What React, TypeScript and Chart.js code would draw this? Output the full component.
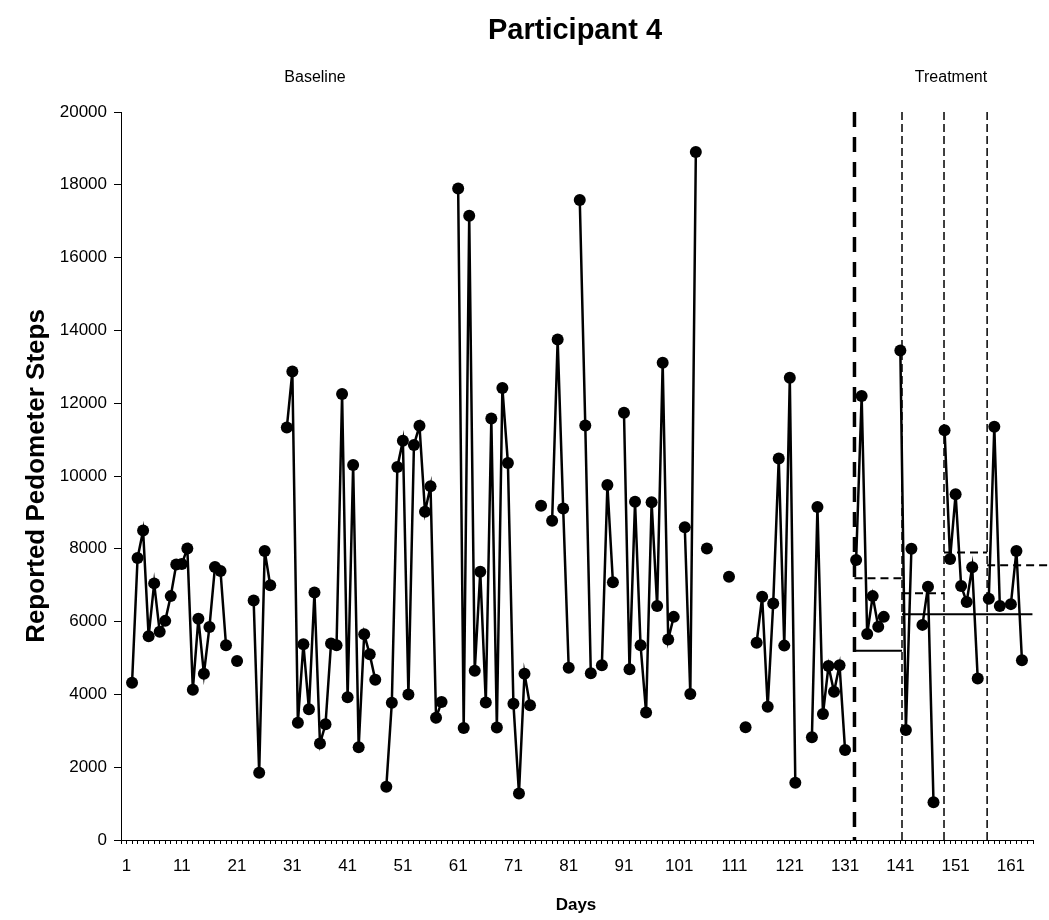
import React, { useEffect, useRef } from 'react';
import { Chart, registerables } from 'chart.js';

Chart.register(...registerables);

// Reported pedometer steps for days 1..165 (null = no report)
const steps: (number | null)[] = [
  null, 4320, 7750, 8500, 5600, 7050, 5720, 6020, 6700, 7570, // 1-10
  7580, 8010, 4130, 6080, 4570, 5850, 7500, 7390, 5350, null, // 11-20
  4920, null, null, 6580, 1850, 7940, 7000, null, null, 11330, // 21-30
  12870, 3220, 5380, 3590, 6800, 2650, 3180, 5400, 5350, 12250, // 31-40
  3920, 10300, 2550, 5650, 5100, 4400, null, 1460, 3770, 10250, // 41-50
  10970, 4000, 10850, 11380, 9020, 9720, 3360, 3790, null, null, // 51-60
  17900, 3080, 17150, 4650, 7370, 3780, 11580, 3090, 12420, 10360, // 61-70
  3740, 1280, 4570, 3700, null, 9180, null, 8770, 13750, 9110, // 71-80
  4730, null, 17580, 11390, 4580, null, 4800, 9750, 7080, null, // 81-90
  11740, 4690, 9290, 5350, 3500, 9280, 6430, 13110, 5510, 6130, // 91-100
  null, 8590, 4010, 18900, null, 8010, null, null, null, 7230, // 101-110
  null, null, 3100, null, 5420, 6680, 3660, 6500, 10480, 5340, // 111-120
  12700, 1570, null, null, 2820, 9150, 3460, 4780, 4070, 4800, // 121-130
  2470, null, 7690, 12200, 5660, 6700, 5860, 6130, null, null, // 131-140
  13450, 3020, 8000, null, 5910, 6960, 1040, null, 11260, 7720, // 141-150
  9500, 6980, 6540, 7490, 4440, null, 6630, 11350, 6430, null, // 151-160
  6480, 7940, 4940, null, null, // 161-165
];

const xTickLabels: number[] = [1, 11, 21, 31, 41, 51, 61, 71, 81, 91, 101, 111, 121, 131, 141, 151, 161];
const yTicks: number[] = [0, 2000, 4000, 6000, 8000, 10000, 12000, 14000, 16000, 18000, 20000];

// phase change lines (day positions)
const phaseLines: number[] = [132.7, 141.3, 148.9, 156.7];
const phaseBold: boolean[] = [true, false, false, false];

// phase mean / level lines
const levelFrom: number[] = [132.7, 132.7, 141.3, 141.3, 148.9, 156.7];
const levelTo: number[] = [141.3, 141.3, 148.9, 164.9, 156.7, 168.2];
const levelValue: number[] = [5200, 7190, 6780, 6200, 7900, 7550];
const levelDashed: boolean[] = [false, true, true, false, true, true];

const FONT = "'Liberation Sans', Arial, Helvetica, sans-serif";

export default function App() {
  const ref = useRef<HTMLCanvasElement | null>(null);

  useEffect(() => {
    if (!ref.current) return;
    const data = steps.map((v, i) => ({ x: i + 1, y: v }));

    const overlay = {
      id: 'overlay',
      beforeDatasetsDraw(chart: any) {
        const { ctx, chartArea, scales } = chart;
        const xs = scales.x;
        const ys = scales.y;
        ctx.save();
        phaseLines.forEach((d, i) => {
          const px = xs.getPixelForValue(d);
          ctx.beginPath();
          ctx.strokeStyle = '#000';
          if (phaseBold[i]) {
            ctx.lineWidth = 3.5;
            ctx.setLineDash([15, 10]);
          } else {
            ctx.lineWidth = 1.5;
            ctx.setLineDash([8, 4]);
          }
          ctx.moveTo(px, chartArea.top);
          ctx.lineTo(px, chartArea.bottom);
          ctx.stroke();
        });
        levelValue.forEach((v, i) => {
          const py = ys.getPixelForValue(v);
          ctx.beginPath();
          ctx.strokeStyle = '#000';
          ctx.lineWidth = 2;
          ctx.setLineDash(levelDashed[i] ? [8, 5] : []);
          ctx.moveTo(xs.getPixelForValue(levelFrom[i]), py);
          ctx.lineTo(xs.getPixelForValue(levelTo[i]), py);
          ctx.stroke();
        });
        ctx.restore();
      },
      afterDraw(chart: any) {
        const { ctx } = chart;
        ctx.save();
        ctx.fillStyle = '#000';
        ctx.textAlign = 'center';
        ctx.textBaseline = 'middle';
        ctx.font = `bold 29px ${FONT}`;
        ctx.fillText('Participant 4', 575, 31);
        ctx.font = `16px ${FONT}`;
        ctx.fillText('Baseline', 315, 78);
        ctx.fillText('Treatment', 951, 78);
        ctx.font = `bold 17px ${FONT}`;
        ctx.fillText('Days', 576, 905);
        ctx.translate(37, 476);
        ctx.rotate(-Math.PI / 2);
        ctx.font = `bold 26px ${FONT}`;
        ctx.fillText('Reported Pedometer Steps', 0, 0);
        ctx.restore();
      },
    };

    const chart = new Chart(ref.current, {
      type: 'line',
      data: {
        datasets: [
          {
            data,
            borderColor: '#000',
            backgroundColor: '#000',
            borderWidth: 2.5,
            pointRadius: 6,
            pointBorderWidth: 0,
            pointBackgroundColor: '#000',
            spanGaps: false,
            tension: 0,
          },
        ],
      },
      options: {
        animation: false,
        responsive: false,
        devicePixelRatio: 1,
        layout: { padding: { top: 112, right: 16, left: 0, bottom: 0 }, autoPadding: false },
        plugins: { legend: { display: false }, tooltip: { enabled: false }, title: { display: false } },
        scales: {
          x: {
            type: 'linear',
            min: 0,
            max: 165,
            afterBuildTicks: (scale: any) => {
              const t: any[] = [];
              for (let i = 0; i <= 165; i++) t.push({ value: i });
              scale.ticks = t;
            },
            afterFit: (scale: any) => {
              scale.height = 80;
            },
            ticks: {
              autoSkip: false,
              maxRotation: 0,
              minRotation: 0,
              color: '#000',
              padding: 12,
              font: { family: FONT, size: 17 },
              callback: (v: any) => (xTickLabels.includes(Number(v)) ? String(v) : ''),
            },
            grid: { drawOnChartArea: false, color: '#000', tickLength: 4, lineWidth: 1 },
            border: { display: true, color: '#000', width: 1 },
          },
          y: {
            type: 'linear',
            min: 0,
            max: 20000,
            afterBuildTicks: (scale: any) => {
              scale.ticks = yTicks.map((v) => ({ value: v }));
            },
            afterFit: (scale: any) => {
              scale.width = 121;
            },
            ticks: {
              color: '#000',
              padding: 7,
              font: { family: FONT, size: 17 },
              callback: (v: any) => String(v),
            },
            grid: { drawOnChartArea: false, color: '#000', tickLength: 7, lineWidth: 1 },
            border: { display: true, color: '#000', width: 1 },
          },
        },
      },
      plugins: [overlay],
    } as any);

    return () => chart.destroy();
  }, []);

  return (
    <div style={{ position: 'absolute', left: 0, top: 0, width: 1049, height: 920, background: '#fff' }}>
      <canvas ref={ref} width={1049} height={920} />
    </div>
  );
}
